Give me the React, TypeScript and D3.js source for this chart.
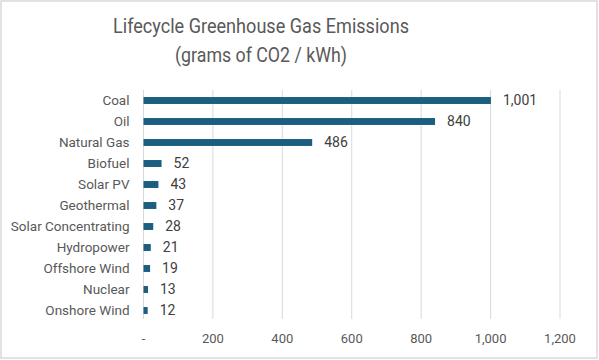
import React from "react";
import * as d3 from "d3";

const categories = [
  "Coal",
  "Oil",
  "Natural Gas",
  "Biofuel",
  "Solar PV",
  "Geothermal",
  "Solar Concentrating",
  "Hydropower",
  "Offshore Wind",
  "Nuclear",
  "Onshore Wind",
];
const values = [1001, 840, 486, 52, 43, 37, 28, 21, 19, 13, 12];
const tickValues = [0, 200, 400, 600, 800, 1000, 1200];
const titleLines = ["Lifecycle Greenhouse Gas Emissions", "(grams of CO2 / kWh)"];
const titleWidths = [296, 172];

const W = 599;
const H = 360;
const FONT = "Roboto, 'Open Sans', sans-serif";

export default function App() {
  const x = d3.scaleLinear().domain([0, 1200]).range([143.5, 560]);
  const y = d3.scaleBand<string>().domain(categories).range([90, 321]).paddingInner(0.67).paddingOuter(0.335);
  const fmt = d3.format(",");
  const tickFmt = (v: number) => (v === 0 ? "-" : fmt(v));

  return (
    <svg
      width={W}
      height={H}
      style={{ position: "absolute", left: 0, top: 0, fontFamily: FONT }}
    >
      <rect x={0} y={0} width={W} height={H} fill="#ffffff" />
      <rect x={1} y={1} width={W - 3} height={H - 3} fill="none" stroke="#d9d9d9" strokeWidth={1.5} />
      {titleLines.map((t, i) => (
        <text
          key={t}
          x={261}
          y={33 + i * 29}
          textAnchor="middle"
          fontSize={20.5}
          textLength={titleWidths[i]}
          lengthAdjust="spacingAndGlyphs"
          fill="#595959"
        >
          {t}
        </text>
      ))}
      {tickValues.map((v) => (
        <g key={v}>
          <line x1={x(v)} x2={x(v)} y1={90} y2={319} stroke="#d9d9d9" strokeWidth={1} />
          <text x={x(v)} y={343} textAnchor="middle" fontSize={13} fill="#595959">
            {tickFmt(v)}
          </text>
        </g>
      ))}
      {categories.map((c, i) => {
        const yc = (y(c) as number) + y.bandwidth() / 2;
        return (
          <g key={c}>
            <rect
              x={x(0)}
              y={y(c) as number}
              width={x(values[i]) - x(0)}
              height={y.bandwidth()}
              fill="#1b5e80"
            />
            <text x={129.5} y={yc} dy="0.35em" textAnchor="end" fontSize={13.5} fill="#595959">
              {c}
            </text>
            <text x={x(values[i]) + 12} y={yc} dy="0.35em" fontSize={14} fill="#404040">
              {fmt(values[i])}
            </text>
          </g>
        );
      })}
    </svg>
  );
}
